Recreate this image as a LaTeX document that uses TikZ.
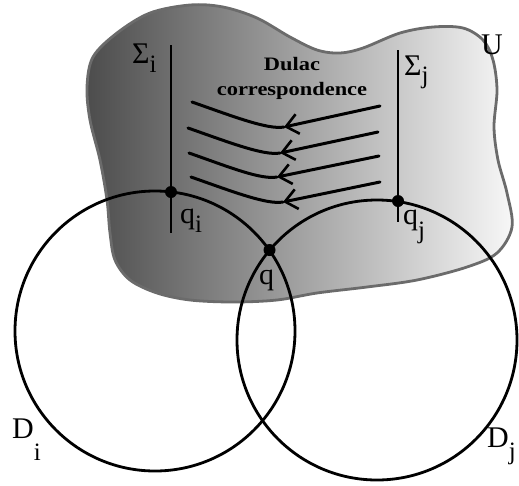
\documentclass[tikz,border=0pt]{standalone}
\usepackage{fontspec}
\setmainfont{Liberation Serif}
\usetikzlibrary{arrows.meta}
\newcommand\lsub[2]{\raisebox{-#1pt}{\fontsize{25}{25}\selectfont #2}}
\begin{document}
\begin{tikzpicture}[x=1pt,y=-1pt,
  lbl/.style={font=\fontsize{30}{30}\selectfont, inner sep=0pt, anchor=base west},
  dul/.style={font=\fontsize{19}{25}\selectfont\bfseries, inner sep=0pt, align=center},
  flow/.style={line width=3pt, line cap=round},
  tipped/.style={-{Straight Barb[length=12pt,width=20pt,line width=2.6pt]}},
  thin/.style={line width=2.8pt},
  dotq/.style={circle, fill=black, inner sep=0pt, minimum size=12pt}]
\useasboundingbox (0,0) rectangle (519,485);
% region U
\shadedraw[left color=black!70, right color=black!3, draw=black!58, line width=2.8pt]
  plot[smooth cycle, tension=0.55] coordinates {
  (87,87) (93,57) (117,33) (150,13) (190,5) (223,7) (257,18) (290,37) (317,50)
  (340,53) (363,48) (400,33) (433,27) (463,28) (483,40) (493,60) (497,90)
  (494,127) (498,160) (507,193) (512,227) (497,253) (467,267) (417,280)
  (367,287) (317,293) (277,300) (233,302) (190,300) (157,293) (130,280)
  (115,260) (110,233) (107,200) (100,160) (90,120)};
% discs
\coordinate (ci) at (155,331);
\coordinate (cj) at (377,340);
\draw[thin] (ci) circle[radius=140pt];
\draw[thin] (cj) circle[radius=140pt];
% transversals
\coordinate (si1) at (171,45); \coordinate (si2) at (171,233);
\coordinate (sj1) at (398,50); \coordinate (sj2) at (398,222);
\draw[thin] (si1) -- (si2);
\draw[thin] (sj1) -- (sj2);
% flow lines
\coordinate (R1) at (380,106); \coordinate (V1) at (284,127); \coordinate (L1) at (192,102);
\coordinate (R2) at (378,132); \coordinate (V2) at (280,153); \coordinate (L2) at (188,128);
\coordinate (R3) at (379,156); \coordinate (V3) at (277,177); \coordinate (L3) at (189,153);
\coordinate (R4) at (380,182); \coordinate (V4) at (283,202); \coordinate (L4) at (191,177);
\foreach \k in {1,2,3,4}{
  \draw[flow, tipped] (R\k) -- (V\k);
  \draw[flow] (V\k) .. controls +(-16,3) and +(40,14) .. (L\k);
}
% points
\node[dotq] (qi) at (171,192) {};
\node[dotq] (qj) at (398,201) {};
\node[dotq] (q) at (269.5,250) {};
% labels
\node[lbl] (tSi) at (132,63) {Σ\lsub{9}{i}};
\node[lbl] (tSj) at (404,75) {Σ\lsub{8}{j}};
\node[lbl] (tqi) at (180,223) {q\lsub{9}{i}};
\node[lbl] (tqj) at (403,224) {q\lsub{14}{j}};
\node[lbl] (tq) at (259,284) {q};
\node[lbl] (tU) at (481,54) {U};
\node[lbl] (tDi) at (12,438) {D\lsub{22}{i}};
\node[lbl] (tDj) at (487,447) {D\lsub{12}{j}};
\node[dul] (tdul) at (292,78) {\scalebox{1.18}[1]{Dulac}\\\scalebox{1.18}[1]{correspondence}};
\end{tikzpicture}
\end{document}
